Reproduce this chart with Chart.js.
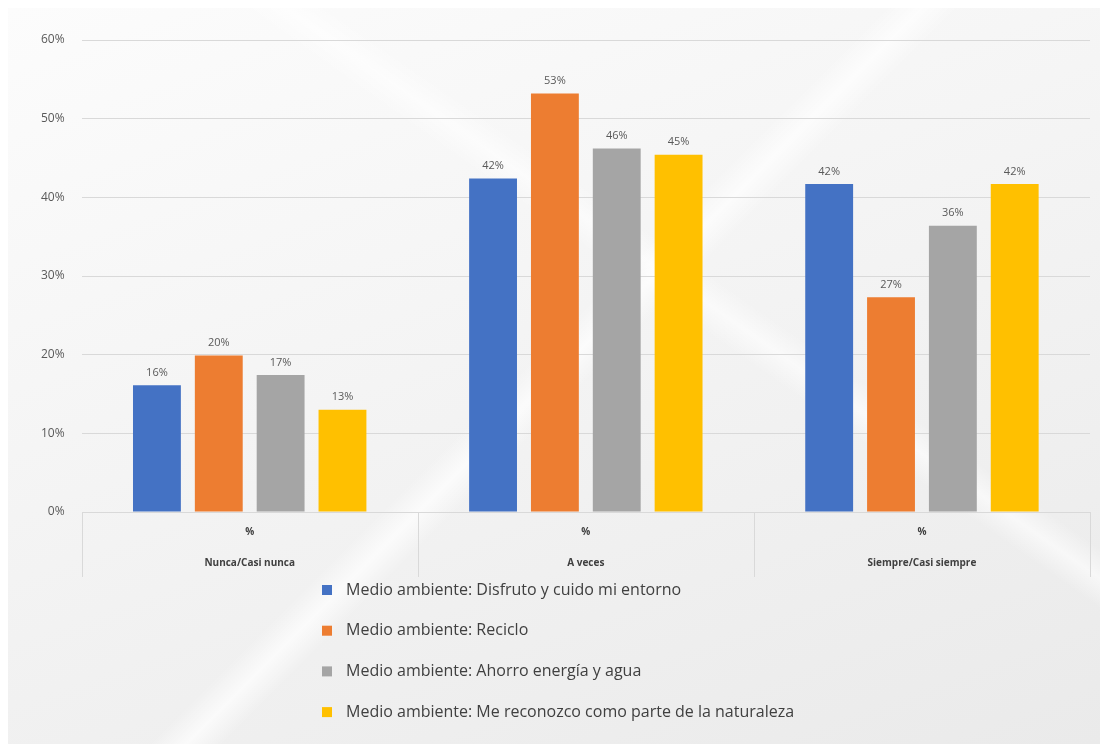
<!DOCTYPE html>
<html>
<head>
<meta charset="utf-8">
<script src="https://cdn.jsdelivr.net/npm/chart.js@4"></script>
<style>
  html, body { margin: 0; padding: 0; background: #fff; }
  #wrap {
    position: absolute; left: 8px; top: 8px; width: 1092px; height: 736px;
    background:
      linear-gradient(135deg, rgba(255,255,255,0) 48%, rgba(255,255,255,0.7) 50%, rgba(255,255,255,0) 52%),
      linear-gradient(35deg, rgba(255,255,255,0) 60%, rgba(255,255,255,0.6) 62%, rgba(255,255,255,0) 64%),
      linear-gradient(160deg, #fcfcfc 0%, #f4f4f4 45%, #eaeaea 100%);
  }
  #box { position: absolute; left: -8px; top: -8px; width: 1100px; height: 744px; }
</style>
</head>
<body>
<div id="wrap"><div id="box"><canvas id="chart" width="1100" height="744"></canvas></div></div>
<script>
// Categories and series (percent values)
const categories = ['Nunca/Casi nunca', 'A veces', 'Siempre/Casi siempre'];
const subLabel = '%';
const seriesNames = [
  'Medio ambiente: Disfruto y cuido mi entorno',
  'Medio ambiente: Reciclo',
  'Medio ambiente: Ahorro energía y agua',
  'Medio ambiente: Me reconozco como parte de la naturaleza'
];
const disfruto = [16.1, 42.4, 41.7];
const reciclo = [19.9, 53.2, 27.3];
const ahorro = [17.4, 46.2, 36.4];
const reconozco = [13.0, 45.4, 41.7];
const colors = ['#4472C4', '#ED7D31', '#A5A5A5', '#FFC000'];
const yTicks = [0, 10, 20, 30, 40, 50, 60];

const seriesValues = [disfruto, reciclo, ahorro, reconozco];
const font = '"Open Sans", "Liberation Sans", sans-serif';

// value labels above bars
const barLabels = {
  id: 'barLabels',
  afterDatasetsDraw(chart) {
    const ctx = chart.ctx;
    ctx.save();
    ctx.font = '11px ' + font;
    ctx.fillStyle = '#595959';
    ctx.textAlign = 'center';
    ctx.textBaseline = 'bottom';
    chart.data.datasets.forEach((ds, i) => {
      chart.getDatasetMeta(i).data.forEach((bar, j) => {
        ctx.fillText(Math.round(ds.data[j]) + '%', bar.x, bar.y - 7);
      });
    });
    ctx.restore();
  }
};

// two-level category axis: separators plus "%" / category name
const categoryAxis = {
  id: 'categoryAxis',
  afterDraw(chart) {
    const x = chart.scales.x;
    const ctx = chart.ctx;
    const n = chart.data.labels.length;
    const bottom = chart.chartArea.bottom;
    const step = x.getPixelForValue(1) - x.getPixelForValue(0);
    ctx.save();
    ctx.strokeStyle = '#d9d9d9';
    ctx.lineWidth = 1;
    for (let i = 0; i <= n; i++) {
      const px = Math.round(x.getPixelForValue(0) - step / 2 + i * step) + 0.5;
      ctx.beginPath();
      ctx.moveTo(px, bottom);
      ctx.lineTo(px, bottom + 65);
      ctx.stroke();
    }
    ctx.font = 'bold 10px ' + font;
    ctx.fillStyle = '#404040';
    ctx.textAlign = 'center';
    ctx.textBaseline = 'middle';
    chart.data.labels.forEach((lab, i) => {
      const px = x.getPixelForValue(i);
      ctx.fillText(subLabel, px, bottom + 20);
      ctx.fillText(lab, px, bottom + 51);
    });
    ctx.restore();
  }
};

// vertical legend below the chart
const stackedLegend = {
  id: 'stackedLegend',
  afterDraw(chart) {
    const ctx = chart.ctx;
    ctx.save();
    ctx.font = '16px ' + font;
    ctx.textBaseline = 'middle';
    chart.data.datasets.forEach((ds, i) => {
      const y = 590 + i * 40.7;
      ctx.fillStyle = ds.backgroundColor;
      ctx.fillRect(322, y - 5, 10, 10);
      ctx.fillStyle = '#404040';
      ctx.fillText(ds.label, 346, y);
    });
    ctx.restore();
  }
};

new Chart(document.getElementById('chart'), {
  type: 'bar',
  data: {
    labels: categories,
    datasets: seriesNames.map((name, i) => ({
      label: name,
      data: seriesValues[i],
      backgroundColor: colors[i],
      categoryPercentage: 0.736,
      barPercentage: 0.774
    }))
  },
  options: {
    responsive: false,
    animation: false,
    layout: { padding: { left: 24, right: 10, top: 40, bottom: 167 } },
    plugins: {
      legend: { display: false },
      tooltip: { enabled: false }
    },
    scales: {
      x: {
        grid: { display: false },
        border: { display: false },
        ticks: { display: false },
        afterFit(axis) { axis.height = 65; }
      },
      y: {
        min: 0,
        max: 60,
        afterBuildTicks(axis) { axis.ticks = yTicks.map(v => ({ value: v })); },
        grid: { color: '#d9d9d9', drawTicks: false },
        border: { display: false },
        ticks: {
          color: '#595959',
          padding: 17,
          font: { family: font, size: 12 },
          callback: v => v + '%'
        }
      }
    }
  },
  plugins: [barLabels, categoryAxis, stackedLegend]
});
</script>
</body>
</html>
